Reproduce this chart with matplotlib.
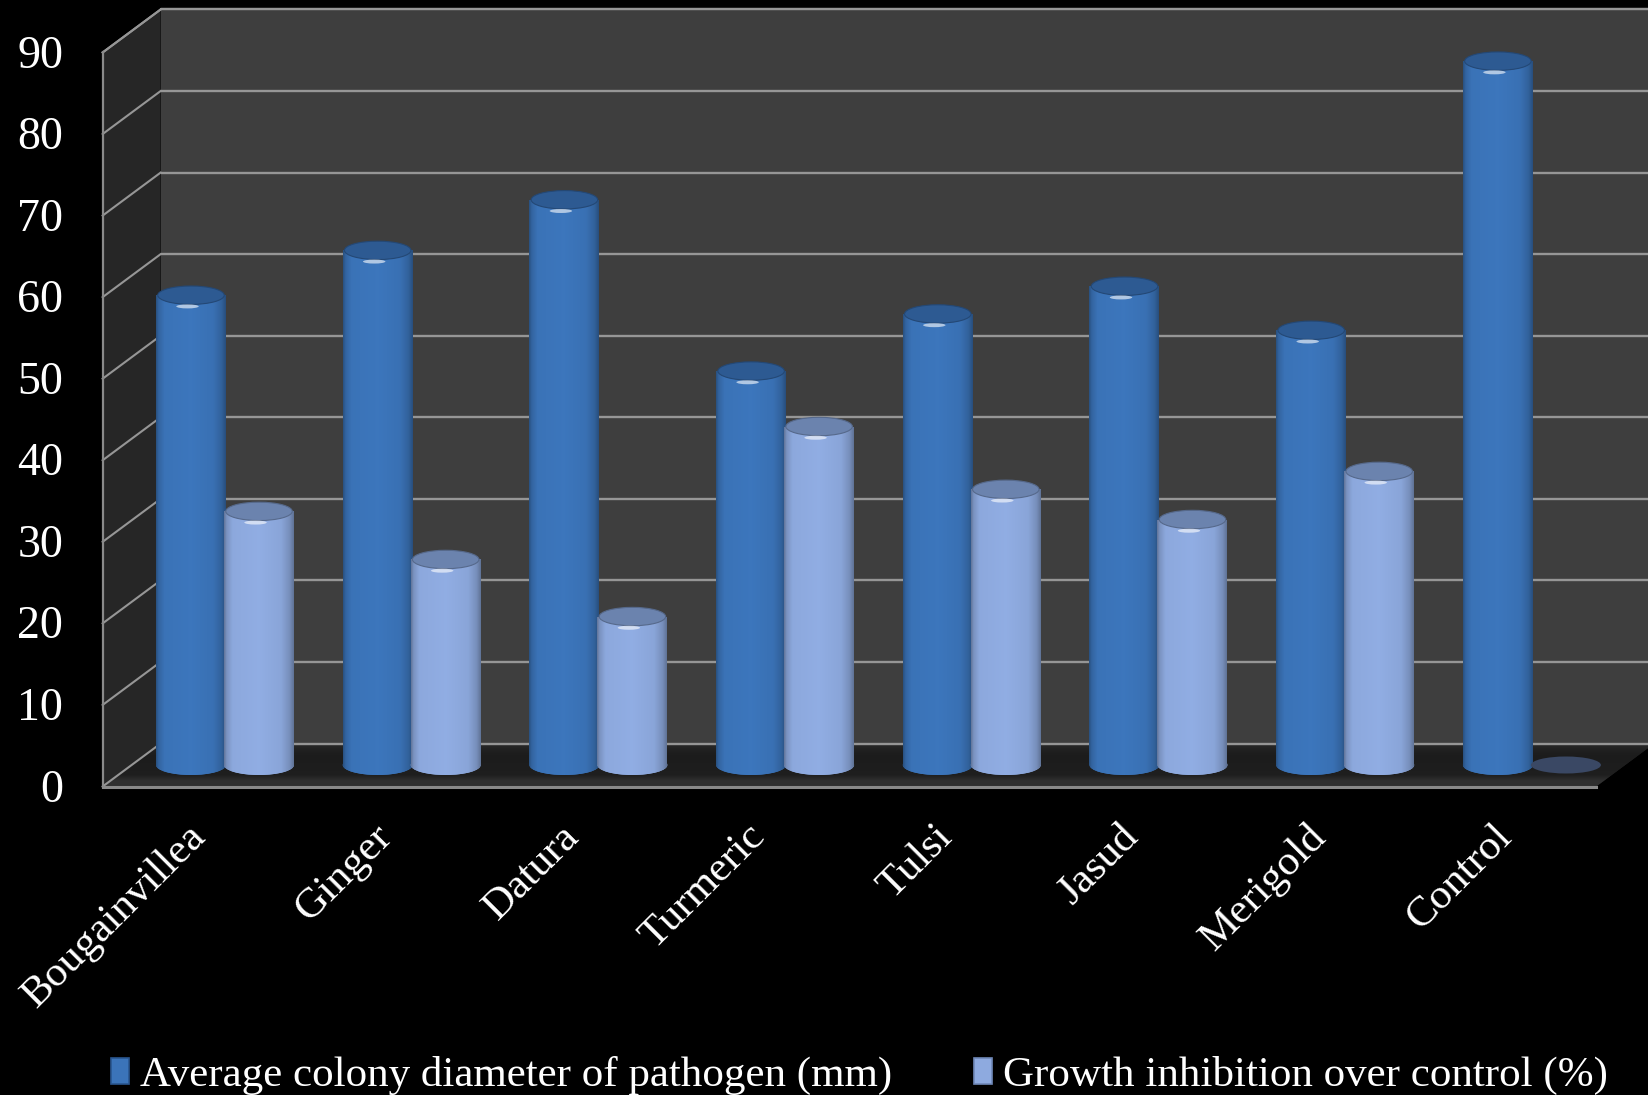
import numpy as np
import matplotlib
matplotlib.use("Agg")
import matplotlib.pyplot as plt
from matplotlib.patches import Ellipse, Polygon, Patch
from matplotlib.colors import to_rgb
from matplotlib.font_manager import FontProperties

# ---- data -------------------------------------------------------------
categories = ["Bougainvillea", "Ginger", "Datura", "Turmeric", "Tulsi",
              "Jasud", "Merigold", "Control"]
colony_diameter = [57.6, 63.1, 69.3, 48.3, 55.3, 58.7, 53.3, 86.3]
growth_inhibition = [31.1, 25.2, 18.2, 41.5, 33.8, 30.1, 36.0, 0.0]
series_labels = ["Average colony diameter of pathogen (mm)",
                 "Growth inhibition over control (%)"]
y_ticks = [0, 10, 20, 30, 40, 50, 60, 70, 80, 90]

# ---- styling ------------------------------------------------------------
FONT = FontProperties(family="Liberation Serif", size=31)
TICK_FONT = FontProperties(family="Liberation Serif", size=33)
DARK_BLUE = "#3b74b9"
LIGHT_BLUE = "#8eaadf"
CAP_DARK = "#2d5a92"
CAP_LIGHT = "#6b83ae"
BACK_WALL = "#3e3e3e"
SIDE_WALL = "#262626"
GRID = "#969696"

W_PX, H_PX = 1648, 1095
fig = plt.figure(figsize=(W_PX / 100, H_PX / 100), dpi=100, facecolor="black")
ax = fig.add_axes([0, 0, 1, 1])
ax.set_facecolor("black")
ax.axis("off")

# pixel geometry of the category/value plane
X0_PX, X_STEP_PX = 225.0, 186.7
Y0_PX, Y_UNIT_PX = 765.0, 8.156
XLIM = ((0 - X0_PX) / X_STEP_PX, (W_PX - X0_PX) / X_STEP_PX)
YLIM = ((Y0_PX - H_PX) / Y_UNIT_PX, Y0_PX / Y_UNIT_PX)

# half depth of the 3-D box (oblique projection offsets)
DX = 29.0 / X_STEP_PX
DY = 21.5 / Y_UNIT_PX

n = len(categories)
xl, xr = -0.5, n - 0.5
ymax = y_ticks[-1]

# ---- box: side wall, back wall, floor -------------------------------------
ax.add_patch(Polygon([(xl - DX, -DY), (xl + DX, DY), (xl + DX, ymax + DY),
                      (xl - DX, ymax - DY)], closed=True,
                     facecolor=SIDE_WALL, edgecolor="none", zorder=1))
ax.add_patch(Polygon([(xl + DX, DY), (xr + DX, DY), (xr + DX, ymax + DY),
                      (xl + DX, ymax + DY)], closed=True,
                     facecolor=BACK_WALL, edgecolor="none", zorder=1))
floor = Polygon([(xl - DX, -DY), (xr - DX, -DY), (xr + DX, DY), (xl + DX, DY)],
                closed=True, facecolor="#1f1f1f", edgecolor="none", zorder=1)
ax.add_patch(floor)
# floor shading: lighter near back and along the front lip
fy = np.linspace(0, 1, 64)
fshade = np.interp(fy, [0, 0.12, 0.25, 0.7, 0.86, 1.0],
                   [0.19, 0.19, 0.12, 0.11, 0.13, 0.17])
fimg = np.repeat(fshade[:, None], 4, axis=1)
fim = ax.imshow(np.dstack([fimg, fimg, fimg]), extent=(xl - DX, xr + DX, -DY, DY),
                origin="lower", aspect="auto", interpolation="bilinear", zorder=1.1)
fim.set_clip_path(floor)

for t in y_ticks:
    ax.plot([xl + DX, xr + DX], [t + DY, t + DY], color=GRID, lw=1.7,
            zorder=1.5, solid_capstyle="butt")
    ax.plot([xl - DX, xl + DX], [t - DY, t + DY], color=GRID, lw=1.5, zorder=1.5)
ax.plot([xl - DX, xl + DX], [ymax - DY, ymax + DY], color=GRID, lw=1.5, zorder=1.5)
ax.plot([xl + DX, xr + DX], [ymax + DY, ymax + DY], color=GRID, lw=1.5, zorder=1.5)
# front axis lines
ax.plot([xl - DX, xl - DX], [-DY, ymax - DY], color="#8a8a8a", lw=1.6, zorder=1.6)
ax.plot([xl - DX, xr - DX], [-DY, -DY], color="#8a8a8a", lw=2.2, zorder=5)

# ---- cylinders ------------------------------------------------------------
BAR_W = 70.0 / X_STEP_PX
OFFSET = 34.0 / X_STEP_PX
ELL_H = 20.0 / Y_UNIT_PX

prof_t = np.linspace(0, 1, 120)
prof = np.interp(prof_t, [0, 0.035, 0.12, 0.5, 0.82, 0.94, 1.0],
                 [0.70, 0.86, 0.99, 1.02, 0.97, 0.84, 0.68])


def shaded(color):
    rgb = np.array(to_rgb(color))
    img = np.clip(prof[:, None] * rgb[None, :], 0, 1)
    return img[None, :, :]


def cylinder(x, value, body, cap, z):
    bar = ax.bar(x, value, width=BAR_W, bottom=0, color=body,
                 edgecolor="none", zorder=z)[0]
    if value > 0:
        base = Ellipse((x, 0), BAR_W, ELL_H, facecolor=body,
                       edgecolor="none", zorder=z)
        ax.add_patch(base)
        for clip, (y0, y1) in ((bar, (0, value)), (base, (-ELL_H / 2, ELL_H / 2))):
            im = ax.imshow(shaded(body), extent=(x - BAR_W / 2, x + BAR_W / 2, y0, y1),
                           origin="lower", aspect="auto", interpolation="bilinear",
                           zorder=z + 0.01)
            im.set_clip_path(clip)
        top = Ellipse((x, value), BAR_W * 0.95, ELL_H * 0.92, facecolor=cap,
                      edgecolor=tuple(np.array(to_rgb(cap)) * 0.8), lw=0.8,
                      zorder=z + 0.02)
        ax.add_patch(top)
        ax.add_patch(Ellipse((x - BAR_W * 0.05, value - ELL_H * 0.56), BAR_W * 0.32,
                             ELL_H * 0.2, facecolor="white", alpha=0.6,
                             edgecolor="none", zorder=z + 0.03))
    else:
        ax.add_patch(Ellipse((x, 0), BAR_W, ELL_H * 0.85, facecolor="#3a4864",
                             edgecolor="none", zorder=z + 0.02))


for i in range(n):
    cylinder(i - OFFSET, colony_diameter[i], DARK_BLUE, CAP_DARK, 3 + i * 0.1)
    cylinder(i + OFFSET, growth_inhibition[i], LIGHT_BLUE, CAP_LIGHT, 3.05 + i * 0.1)

# ---- labels -------------------------------------------------------------
for t in y_ticks:
    ax.text(-0.866, t - DY - 1.85, str(t), ha="right", va="baseline",
            color="white", fontproperties=TICK_FONT, zorder=6)

for i, name in enumerate(categories):
    ax.text(i - 0.21, -6.4, name, rotation=45, rotation_mode="anchor",
            ha="right", va="top", color="white", fontproperties=FONT, zorder=6)

handles = [Patch(facecolor=DARK_BLUE, edgecolor="#2a5690", lw=1.2),
           Patch(facecolor=LIGHT_BLUE, edgecolor="#6f88b8", lw=1.2)]
ax.legend(handles, series_labels, loc="center", bbox_to_anchor=(0.5215, 0.018),
          bbox_transform=fig.transFigure, ncol=2, frameon=False, prop=FONT,
          labelcolor="white", handlelength=0.42, handleheight=0.55,
          handletextpad=0.25, columnspacing=1.9, borderpad=0, borderaxespad=0)

ax.set_xlim(*XLIM)
ax.set_ylim(*YLIM)
fig.savefig("out.png", dpi=100, facecolor="black")
